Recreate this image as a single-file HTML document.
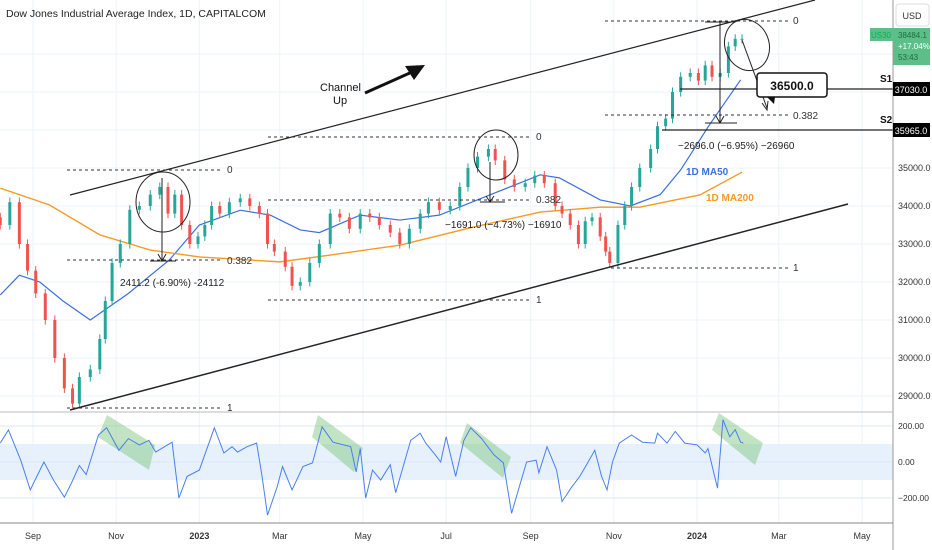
<!DOCTYPE html>
<html><head><meta charset="utf-8"><style>
body{margin:0;background:#fff;font-family:"Liberation Sans",sans-serif}
svg{display:block}
text{font-family:"Liberation Sans",sans-serif}
</style></head><body>
<svg id="c" width="932" height="550" viewBox="0 0 932 550">
<rect width="932" height="550" fill="#fff"/>
<g id="grid"></g>
<g id="cciBand"></g>
<g id="ma"></g>
<g id="candles"></g>
<g id="cci"></g>
<g id="ann">
  <line x1="70" y1="195" x2="815" y2="0" stroke="#222" stroke-width="1.2"/>
  <line x1="70" y1="410" x2="848" y2="204" stroke="#222" stroke-width="1.5"/>
  <text x="320" y="91" font-size="11" fill="#111">Channel</text>
  <text x="333" y="104" font-size="11" fill="#111">Up</text>
  <line x1="365" y1="93" x2="412" y2="72" stroke="#111" stroke-width="3"/>
  <polygon points="425,65 405,66 414,80" fill="#111"/>
  <g stroke="#333" stroke-dasharray="3,3" stroke-width="1">
    <line x1="67" y1="170" x2="222" y2="170"/><line x1="67" y1="260" x2="222" y2="260"/><line x1="67" y1="408" x2="222" y2="408"/>
    <line x1="268" y1="137" x2="530" y2="137"/><line x1="268" y1="200" x2="530" y2="200"/><line x1="268" y1="300" x2="530" y2="300"/>
    <line x1="605" y1="21" x2="790" y2="21"/><line x1="605" y1="115" x2="790" y2="115"/><line x1="605" y1="268" x2="790" y2="268"/>
  </g>
  <g font-size="10" fill="#333">
    <text x="227" y="173">0</text><text x="227" y="264">0.382</text><text x="227" y="411">1</text>
    <text x="536" y="140">0</text><text x="536" y="203">0.382</text><text x="536" y="303">1</text>
    <text x="793" y="24">0</text><text x="793" y="119">0.382</text><text x="793" y="271">1</text>
  </g>
  <g stroke="#222" fill="none" stroke-width="1">
    <line x1="162" y1="178" x2="162" y2="261"/><polyline points="158,254 162,261 166,254"/><line x1="150" y1="261" x2="176" y2="261"/>
    <line x1="490" y1="162" x2="490" y2="202"/><polyline points="486,196 490,202 494,196"/><line x1="480" y1="202" x2="505" y2="202"/>
    <line x1="720" y1="22" x2="720" y2="123"/><polyline points="716,116 720,123 724,116"/><line x1="705" y1="123" x2="737" y2="123"/><line x1="705" y1="22" x2="735" y2="22"/>
    <line x1="662" y1="130" x2="893" y2="130" stroke="#222" stroke-width="1.3"/>
    <line x1="680" y1="89" x2="893" y2="89" stroke="#222" stroke-width="1.3"/>
    <line x1="742" y1="40" x2="767" y2="108"/><polyline points="762,103 767,110 768,101"/>
    <ellipse cx="163" cy="202" rx="27" ry="30"/><ellipse cx="496" cy="155" rx="22" ry="25"/><ellipse cx="747" cy="45" rx="22" ry="26" transform="rotate(-20 747 45)"/>
  </g>
  <g font-size="10" fill="#222">
    <text x="120" y="286">2411.2 (-6.90%) -24112</text>
    <text x="445" y="228">−1691.0 (−4.73%) −16910</text>
    <text x="678" y="149">−2696.0 (−6.95%) −26960</text>
  </g>
  <rect x="757" y="73" width="70" height="24" rx="3" fill="#fff" stroke="#111" stroke-width="1.5"/>
  <polygon points="767,97 775,97 774,104" fill="#111"/>
  <text x="792" y="90" font-size="12" font-weight="bold" text-anchor="middle" fill="#111">36500.0</text>
  <text x="880" y="82" font-size="10" font-weight="bold" fill="#111">S1</text>
  <text x="880" y="123" font-size="10" font-weight="bold" fill="#111">S2</text>
  <text x="686" y="175" font-size="10" font-weight="bold" fill="#3b6fe0">1D MA50</text>
  <text x="706" y="201" font-size="10" font-weight="bold" fill="#f59a23">1D MA200</text>
  <text x="6" y="17" font-size="10.5" fill="#222">Dow Jones Industrial Average Index, 1D, CAPITALCOM</text>
</g>
<g id="axis">
  <line x1="893" y1="0" x2="893" y2="550" stroke="#999"/>
  <line x1="0" y1="412" x2="893" y2="412" stroke="#bbb"/>
  <line x1="0" y1="523" x2="893" y2="523" stroke="#888"/>
  <rect x="896" y="4" width="33" height="22" rx="3" fill="#fff" stroke="#ddd"/>
  <text x="912" y="19" font-size="9" text-anchor="middle" fill="#333">USD</text>
  <rect x="870" y="28" width="23" height="13" fill="#5cbf8a"/>
  <text x="881" y="38" font-size="8" text-anchor="middle" fill="#1a5">US30</text>
  <rect x="893" y="28" width="37" height="37" fill="#5cbf8a"/>
  <text x="898" y="38" font-size="8" fill="#1e6b3f">38484.1</text>
  <text x="898" y="49" font-size="8" fill="#fff">+17.04%</text>
  <text x="898" y="60" font-size="8" fill="#1e6b3f">53:43</text>
  <rect x="893" y="82" width="37" height="14" fill="#000"/>
  <text x="911" y="93" font-size="9" fill="#fff" text-anchor="middle">37030.0</text>
  <rect x="893" y="123" width="37" height="14" fill="#000"/>
  <text x="911" y="134" font-size="9" fill="#fff" text-anchor="middle">35965.0</text>
</g>
</svg>
<script>
const priceDays=[-24,-17,-10,-4,2,9,16,23,29,34,42,49,53,58,64,71,78,86,93,99,104,109,115,121,126,131,137,144,152,159,166,172,177,185,190,196,203,210,218,225,232,240,247,254,262,269,276,284,290,298,306,313,319,326,334,339,346,353,361,368,375,383,388,394,400,405,410,416,420,423,429,434,439,445,453,458,464,469,475,482,488,493,498,504,510,515,520];
const priceClose=[33500,34100,33000,32300,31700,31000,30000,29200,28800,29500,29700,30500,31500,32500,33000,33900,34000,34300,34500,33800,34300,33500,33000,33200,33500,34000,33800,34100,34200,34000,33800,33000,32800,32400,31900,32000,32500,33000,33800,33700,33400,33800,33700,33500,33300,33000,33400,33800,34100,33900,34000,34500,35000,35300,35500,35200,34700,34500,34600,34800,34600,34000,33800,33500,33000,33600,33700,33200,32800,32500,33500,34000,34500,35000,35500,36100,36300,37000,37400,37500,37300,37700,37400,37500,38200,38400,38400];
const ma50Days=[-24,-10,5,22,42,70,100,122,152,174,196,210,240,269,298,335,372,386,416,438,460,475,496,519];
const ma50Vals=[31660,32180,32000,31500,31000,31700,32580,33500,33890,33760,33370,33300,33760,33630,33760,34290,34820,34740,34160,34000,34300,34950,36130,37320];
const ma200Days=[-24,12,49,86,122,181,218,269,320,372,416,445,489,520];
const ma200Vals=[34470,34030,33240,32840,32660,32530,32710,32970,33420,33840,33970,33970,34290,34890];
const cciDays=[-24,-18,-9,-2,8,15,23,28,34,39,48,54,63,70,78,85,90,102,107,113,122,133,140,146,150,157,164,168,172,179,183,190,198,205,212,220,233,237,240,244,249,255,262,266,277,284,288,295,299,303,310,316,321,329,338,345,351,356,362,369,371,377,384,388,395,401,406,412,417,421,425,430,439,447,456,458,465,471,478,487,493,495,502,506,511,515,519,521];
const cciVals=[105,178,10,-155,0,-100,-195,-120,-20,-70,150,190,65,130,95,120,55,110,-200,-80,-45,190,50,85,55,85,105,-80,-295,-140,-25,-155,-25,-5,195,110,85,-55,75,-200,-45,-100,-15,-170,120,160,105,40,0,140,-80,120,190,130,40,-5,-285,-155,0,10,-60,85,-45,-220,-140,-80,-15,65,-80,-155,0,105,150,110,105,160,105,170,105,95,50,75,-145,235,140,180,110,105];
const priceTicks=[29000,30000,31000,32000,33000,34000,35000];
const cciTicks=[200,0,-200];
const timeLabels=["Sep","Nov","2023","Mar","May","Jul","Sep","Nov","2024","Mar","May"];
const timeTickDays=[0,61,122,181,242,303,365,426,487,547,608];

const NS="http://www.w3.org/2000/svg";
const xOf=d=>33+d*1.3635;
const yP=p=>168-(p-35000)*0.038;
const yC=v=>462-v*0.18;
function mk(tag,attrs,parent){const e=document.createElementNS(NS,tag);for(const k in attrs)e.setAttribute(k,attrs[k]);parent.appendChild(e);return e;}
const grid=document.getElementById('grid');
priceTicks.forEach(p=>{
  const l=mk('line',{x1:0,x2:893,y1:yP(p),y2:yP(p),stroke:'#eef3f8'},grid);
  
  
  const t=mk('text',{x:898,y:yP(p)+3,'font-size':9,fill:'#333'},grid);
  
  
  t.textContent=p.toFixed(1);
});
[36000,37000,38000].forEach(p=>{mk('line',{x1:0,x2:893,y1:yP(p),y2:yP(p),stroke:'#eef3f8'},grid);});
timeTickDays.forEach((d,i)=>{
  const x=xOf(d);
  const l=mk('line',{x1:x,x2:x,y1:0,y2:523,stroke:'#eef3f8'},grid);
  
  
  const bold=timeLabels[i].length===4;
  const t=mk('text',{x:x,y:539,'font-size':9,'text-anchor':'middle',fill:'#333','font-weight':bold?'bold':'normal'},grid);
  
  
  t.textContent=timeLabels[i];
});
const band=document.getElementById('cciBand');
const br=mk('rect',{x:0,y:yC(100),width:893,height:yC(-100)-yC(100),fill:'#e6f1fc'},band);


cciTicks.forEach(v=>{
  mk('line',{x1:0,x2:893,y1:yC(v),y2:yC(v),stroke:'#dde8f3'},band);
  const t=mk('text',{x:898,y:yC(v)+3,'font-size':8.5,fill:'#333'},band);
  
  
  t.textContent=(v<0?'−':'')+Math.abs(v).toFixed(2);
});
[[107,415,155,445,149,470,98,437],[318,415,363,448,354,472,312,437],[467,423,511,457,503,478,460,443],[719,413,763,443,755,465,712,430]].forEach(q=>{
  const p=mk('polygon',{points:`${q[0]},${q[1]} ${q[2]},${q[3]} ${q[4]},${q[5]} ${q[6]},${q[7]}`,fill:'rgba(120,195,120,0.45)'},band);
  
  
});
const ma=document.getElementById('ma');
const l50=mk('polyline',{points:ma50Days.map((d,i)=>xOf(d)+','+yP(ma50Vals[i])).join(' '),fill:'none',stroke:'#3b6fe0','stroke-width':1.2},ma);


const l200=mk('polyline',{points:ma200Days.map((d,i)=>xOf(d)+','+yP(ma200Vals[i])).join(' '),fill:'none',stroke:'#f59a23','stroke-width':1.4},ma);


const cg=document.getElementById('candles');
priceDays.forEach((d,i)=>{
  const c=priceClose[i], o=i?priceClose[i-1]:c+200;
  const up=c>=o, col=up?'#26a69a':'#ef5350';
  const x=xOf(d), hi=Math.max(o,c)+120, lo=Math.min(o,c)-120;
  const w=mk('line',{x1:x,x2:x,y1:yP(hi),y2:yP(lo),stroke:col},cg);
  
  
  const b=mk('rect',{x:x-1.5,y:yP(Math.max(o,c)),width:3,height:Math.max(1,Math.abs(yP(o)-yP(c))),fill:col},cg);
  
  
});
const cci=document.getElementById('cci');
const cl=mk('polyline',{points:cciDays.map((d,i)=>xOf(d)+','+yC(cciVals[i])).join(' '),fill:'none',stroke:'#4a7ef0','stroke-width':1},cci);


</script>
</body></html>
